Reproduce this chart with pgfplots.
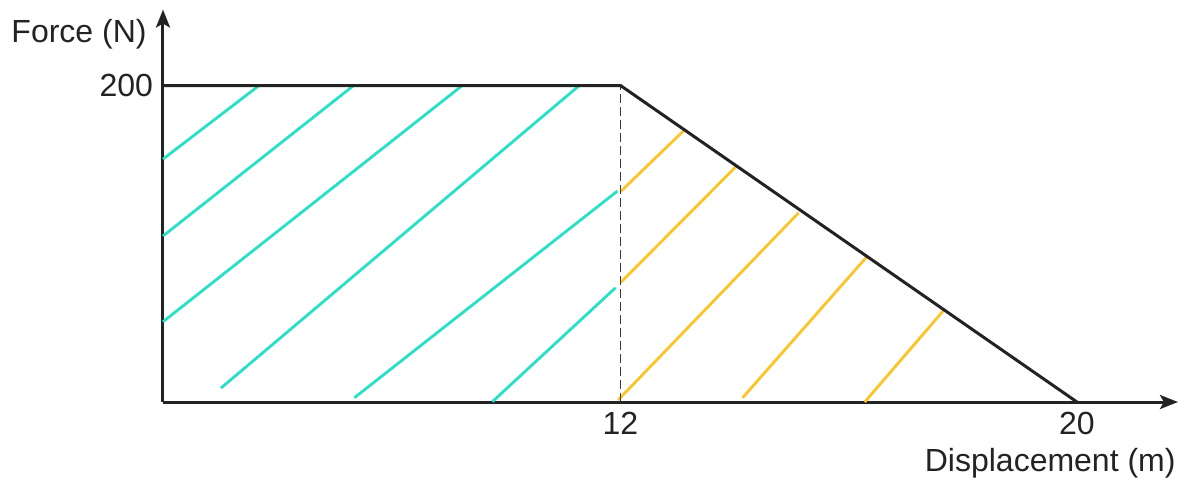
\documentclass[border=0pt]{standalone}
\usepackage{fontspec}
\setmainfont{Liberation Sans}
\usepackage{pgfplots}
\pgfplotsset{compat=1.18}
\usetikzlibrary{arrows.meta}

\definecolor{hatchcyan}{RGB}{40,224,200}
\definecolor{hatchyellow}{RGB}{252,196,40}
\definecolor{ink}{RGB}{35,35,35}

\pgfplotsset{
  cyanhatch/.style={hatchcyan, line width=1.4pt},
  yellowhatch/.style={hatchyellow, line width=1.4pt},
}

\begin{document}
\begin{tikzpicture}
\begin{axis}[
  at={(0,0)}, anchor=origin,
  x=0.5pt, y=0.79125pt,
  % sketch is not to scale: 0-12 and 12-20 use different spacing
  x coord trafo/.code={\pgfmathparse{(#1<=12)*38.125*#1+(#1>12)*(457.5+57.06*(#1-12))}},
  xmin=0, xmax=21.77, ymin=0, ymax=248,
  axis lines=left,
  axis line style={ink, line width=1.5pt, -{Stealth[length=9pt,width=7pt,inset=2pt]}},
  xtick={12,20}, xticklabels={12,20},
  ytick={200}, yticklabels={200},
  major tick length=0pt,
  tick label style={font=\fontsize{16}{19}\selectfont, text=ink},
  xticklabel style={yshift=-1.5pt},
  yticklabel style={xshift=-1.5pt},
  /pgf/number format/assume math mode=true,
  clip=false,
]
% work region 0-12 m
\addplot[cyanhatch] coordinates {(0,153.5) (2.52,200)};
\addplot[cyanhatch] coordinates {(0,104.9) (5.00,200)};
\addplot[cyanhatch] coordinates {(0,50.7) (7.85,200)};
\addplot[cyanhatch] coordinates {(1.52,8.8) (10.92,200)};
\addplot[cyanhatch] coordinates {(5.02,2.7) (11.92,133.3)};
\addplot[cyanhatch] coordinates {(8.64,0.2) (11.87,72.2)};
% work region 12-20 m
\addplot[yellowhatch] coordinates {(12.0,132.9) (13.11,171.5)};
\addplot[yellowhatch] coordinates {(12.0,75.4) (14.04,149.3)};
\addplot[yellowhatch] coordinates {(11.94,1.3) (15.12,119.5)};
\addplot[yellowhatch] coordinates {(14.14,2.7) (16.31,91.5)};
\addplot[yellowhatch] coordinates {(16.28,0) (17.69,59)};

\addplot[ink!90, line width=0.75pt, dash pattern=on 4.5pt off 2pt] coordinates {(12,0) (12,200)};
\addplot[ink, line width=1.5pt] coordinates {(0,200) (12,200) (20,0)};

\node[anchor=base east, inner sep=0pt, font=\fontsize{16}{19}\selectfont, text=ink, xshift=-8pt, yshift=180pt] at (rel axis cs:0,0) {Force (N)};
\node[anchor=base east, inner sep=0pt, font=\fontsize{16}{19}\selectfont, text=ink, xshift=-1pt, yshift=-34.5pt] at (rel axis cs:1,0) {Displacement (m)};
\end{axis}
\pgfresetboundingbox
\path[use as bounding box] (-81.5pt,-41pt) rectangle (511pt,201pt);
\end{tikzpicture}
\end{document}
